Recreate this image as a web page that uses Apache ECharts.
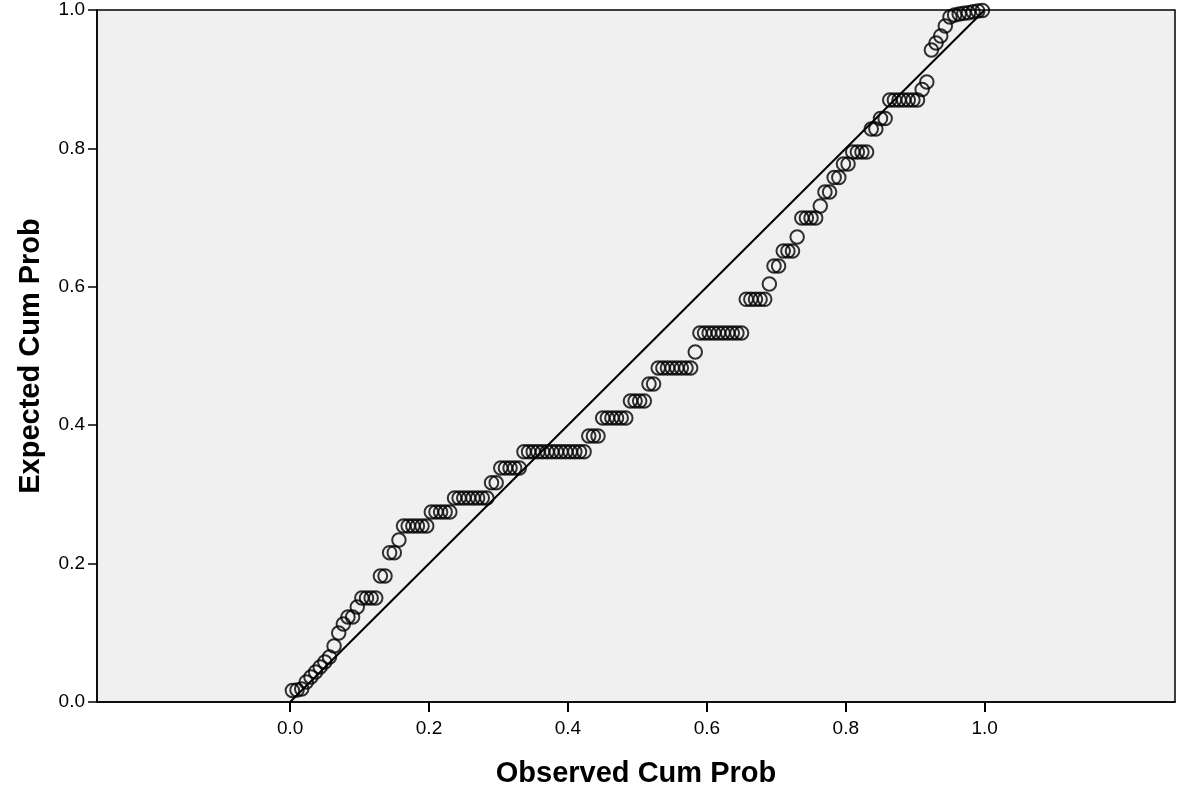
<!DOCTYPE html>
<html>
<head>
<meta charset="utf-8">
<script src="https://cdn.jsdelivr.net/npm/echarts@6/dist/echarts.min.js"></script>
<style>
html,body{margin:0;padding:0;background:#fff;}
#chart{width:1177px;height:789px;}
</style>
</head>
<body>
<div id="chart"></div>
<script>
// Observed cumulative probability (x)
var observed = [
0.0033,0.0100,0.0167,0.0233,0.0300,0.0367,0.0433,0.0500,0.0567,0.0633,0.0700,0.0767,0.0833,0.0900,0.0967,0.1033,0.1100,0.1167,0.1233,0.1300,0.1367,0.1433,0.1500,0.1567,0.1633,0.1700,0.1767,0.1833,0.1900,0.1967,
0.2033,0.2100,0.2167,0.2233,0.2300,0.2367,0.2433,0.2500,0.2567,0.2633,0.2700,0.2767,0.2833,0.2900,0.2967,0.3033,0.3100,0.3167,0.3233,0.3300,0.3367,0.3433,0.3500,0.3567,0.3633,0.3700,0.3767,0.3833,0.3900,0.3967,
0.4033,0.4100,0.4167,0.4233,0.4300,0.4367,0.4433,0.4500,0.4567,0.4633,0.4700,0.4767,0.4833,0.4900,0.4967,0.5033,0.5100,0.5167,0.5233,0.5300,0.5367,0.5433,0.5500,0.5567,0.5633,0.5700,0.5767,0.5833,0.5900,0.5967,
0.6033,0.6100,0.6167,0.6233,0.6300,0.6367,0.6433,0.6500,0.6567,0.6633,0.6700,0.6767,0.6833,0.6900,0.6967,0.7033,0.7100,0.7167,0.7233,0.7300,0.7367,0.7433,0.7500,0.7567,0.7633,0.7700,0.7767,0.7833,0.7900,0.7967,
0.8033,0.8100,0.8167,0.8233,0.8300,0.8367,0.8433,0.8500,0.8567,0.8633,0.8700,0.8767,0.8833,0.8900,0.8967,0.9033,0.9100,0.9167,0.9233,0.9300,0.9367,0.9433,0.9500,0.9567,0.9633,0.9700,0.9767,0.9833,0.9900,0.9967
];
// Expected cumulative probability (y)
var expected = [
0.0166,0.0173,0.0188,0.0289,0.0361,0.0434,0.0506,0.0578,0.0650,0.0809,
0.0997,0.1127,0.1228,0.1228,0.1373,0.1503,0.1503,0.1503,0.1503,0.1821,
0.1821,0.2158,0.2158,0.2341,0.2543,0.2543,0.2543,0.2543,0.2543,0.2543,
0.2746,0.2746,0.2746,0.2746,0.2746,0.2948,0.2948,0.2948,0.2948,0.2948,
0.2948,0.2948,0.2948,0.3169,0.3169,0.3382,0.3382,0.3382,0.3382,0.3382,
0.3617,0.3617,0.3617,0.3617,0.3617,0.3617,0.3617,0.3617,0.3617,0.3617,
0.3617,0.3617,0.3617,0.3617,0.3844,0.3844,0.3844,0.4104,0.4104,0.4104,
0.4104,0.4104,0.4104,0.4350,0.4350,0.4350,0.4350,0.4595,0.4595,0.4827,
0.4827,0.4827,0.4827,0.4827,0.4827,0.4827,0.4827,0.5058,0.5332,0.5332,
0.5332,0.5332,0.5332,0.5332,0.5332,0.5332,0.5332,0.5332,0.5819,0.5819,
0.5819,0.5819,0.5819,0.6040,0.6301,0.6301,0.6517,0.6517,0.6517,0.6720,
0.6994,0.6994,0.6994,0.6994,0.7168,0.7370,0.7370,0.7579,0.7579,0.7775,
0.7775,0.7948,0.7948,0.7948,0.7948,0.8280,0.8280,0.8432,0.8432,0.8699,
0.8699,0.8699,0.8699,0.8699,0.8699,0.8699,0.8851,0.8960,0.9422,0.9523,
0.9624,0.9769,0.9899,0.9928,0.9942,0.9952,0.9961,0.9975,0.9986,0.9993
];
// Reference diagonal
var refLineX = [0, 1];
var refLineY = [0, 1];
// Tick labels
var xTicks = [0, 0.2, 0.4, 0.6, 0.8, 1.0];
var yTicks = [0, 0.2, 0.4, 0.6, 0.8, 1.0];
var xTitle = 'Observed Cum Prob';
var yTitle = 'Expected Cum Prob';

var points = observed.map(function (x, i) { return [x, expected[i]]; });
var diag = refLineX.map(function (x, i) { return [x, refLineY[i]]; });

var chart = echarts.init(document.getElementById('chart'), null, {renderer: 'canvas'});
var labelFont = "'Liberation Sans', Arial, sans-serif";
var titleFont = "'Liberation Sans Narrow', 'Liberation Sans', Arial, sans-serif";
chart.setOption({
  animation: false,
  backgroundColor: '#ffffff',
  grid: {
    left: 97, right: 2, top: 10, bottom: 87,
    containLabel: false,
    outerBoundsMode: 'none',
    show: true,
    backgroundColor: '#F0F0F0',
    borderColor: '#000',
    borderWidth: 1.5
  },
  xAxis: {
    type: 'value',
    min: -0.278,
    max: 1.274,
    splitLine: {show: false},
    axisLine: {onZero: false, lineStyle: {color: '#000', width: 1.5}},
    axisTick: {show: true, customValues: xTicks, length: 10, lineStyle: {color: '#000', width: 2}},
    axisLabel: {
      customValues: xTicks, margin: 17, fontSize: 19, color: '#000', fontFamily: labelFont,
      formatter: function (v) { return v.toFixed(1); }
    },
    name: xTitle,
    nameLocation: 'middle',
    nameGap: 57,
    nameTextStyle: {fontSize: 29, fontWeight: 'bold', color: '#000', fontFamily: titleFont}
  },
  yAxis: {
    type: 'value',
    min: 0,
    max: 1,
    interval: 0.2,
    splitLine: {show: false},
    axisLine: {onZero: false, lineStyle: {color: '#000', width: 1.5}},
    axisTick: {show: true, customValues: yTicks, length: 9, lineStyle: {color: '#000', width: 1.5}},
    axisLabel: {
      customValues: yTicks, margin: 12, fontSize: 19, color: '#000', fontFamily: labelFont,
      formatter: function (v) { return v.toFixed(1); }
    },
    name: yTitle,
    nameLocation: 'middle',
    nameGap: 52,
    nameTextStyle: {fontSize: 29, fontWeight: 'bold', color: '#000', fontFamily: titleFont}
  },
  series: [
    {
      type: 'line',
      data: diag,
      symbol: 'none',
      lineStyle: {color: '#000', width: 2},
      z: 2
    },
    {
      type: 'scatter',
      data: points,
      symbol: 'circle',
      symbolSize: 13.5,
      itemStyle: {color: 'rgba(0,0,0,0)', borderColor: '#000', borderWidth: 2},
      z: 3
    }
  ]
});
</script>
</body>
</html>
